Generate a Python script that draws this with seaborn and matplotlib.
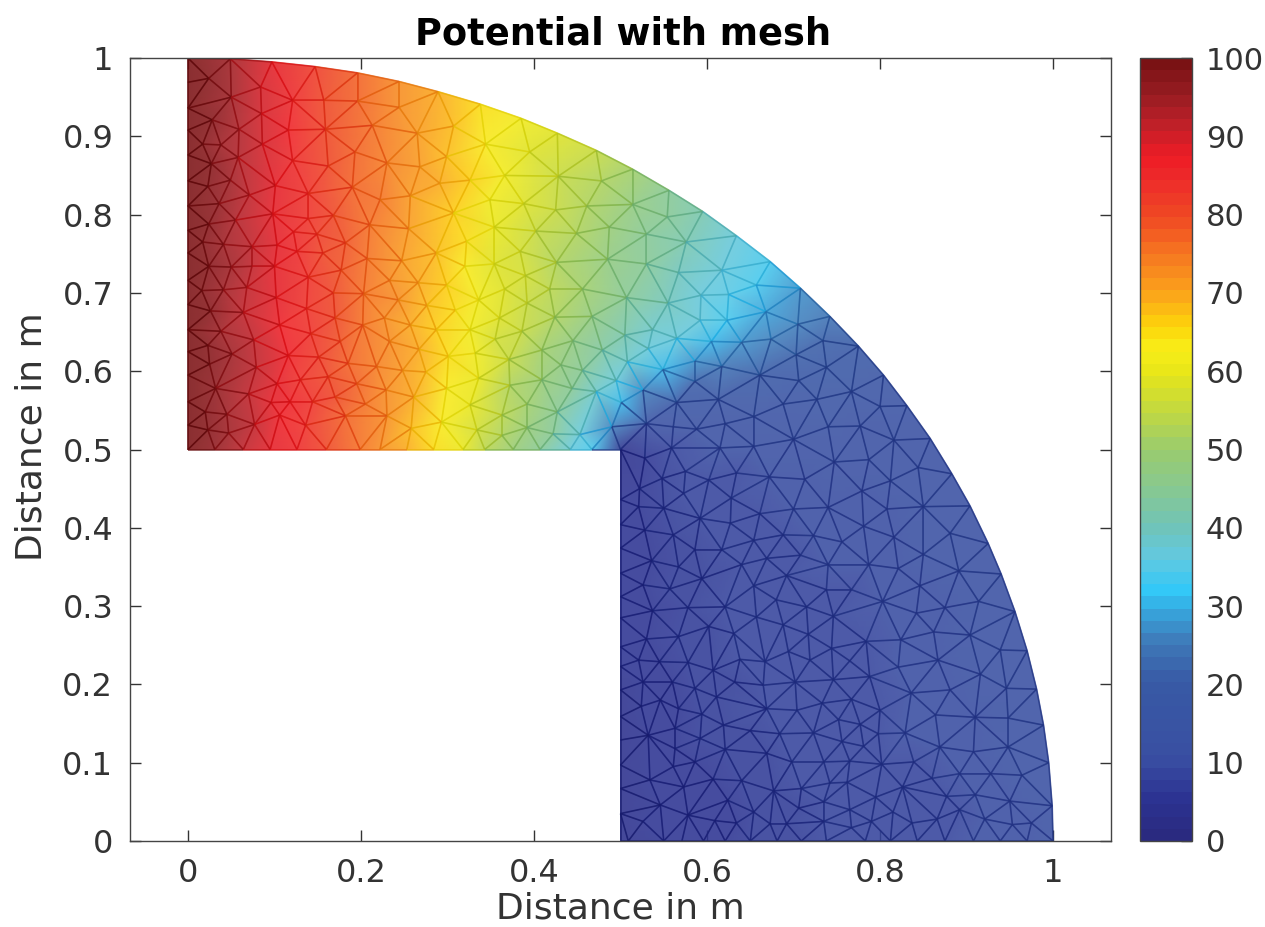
# potential on the mesh, node positions and values
import numpy as np
import matplotlib
matplotlib.use("Agg")
import matplotlib.pyplot as plt
import matplotlib.tri as mtri
import seaborn as sns
from matplotlib.collections import LineCollection
from matplotlib.colors import LinearSegmentedColormap, Normalize
from matplotlib.cm import ScalarMappable

# ---------------------------------------------------------
# 1. NODES: x, y, potential, one group per part of the domain
# ---------------------------------------------------------
left_y = [1.0, .969, .936, .908, .876, .843, .811, .780, .751, .716, .685, .653, .625, .595, .561, .531, .5]
left_x = [0.0] * len(left_y)
left_v = [100.0] * len(left_y)

top_x = [.049, .097, .147, .196, .244, .289, .338, .024, .050, .028, .017, .038, .059, .084, .085, .086,
         .058, .027, .023, .049, .071, .036, .024, .055, .041, .017, .074, .098, .101, .121, .116, .121,
         .157, .159, .162, .139, .139, .122, .149, .168, .190, .193, .213, .196, .244, .265, .230, .257,
         .222, .210, .182, .255, .307, .326, .299, .307, .268, .291, .287, .322, .207, .103]
top_y = [.999, .995, .989, .981, .970, .957, .941, .974, .950, .921, .890, .889, .909, .963, .929, .890,
         .873, .865, .836, .844, .825, .814, .788, .793, .762, .765, .759, .801, .837, .869, .908, .946,
         .946, .909, .862, .827, .795, .778, .775, .799, .835, .880, .914, .945, .937, .904, .866, .824,
         .819, .787, .764, .782, .802, .844, .874, .913, .861, .840, .751, .766, .744, .761]
top_v = [94, 88, 82, 77, 72, 69, 65, 97, 94, 97, 98, 95, 93, 90, 90, 90,
         93, 97, 97, 94, 91, 96, 97, 93, 95, 98, 91, 88, 88, 85, 86, 85,
         81, 81, 81, 83, 83, 85, 82, 80, 78, 78, 76, 77, 72, 71, 74, 71,
         75, 76, 79, 71, 66, 66, 68, 68, 71, 69, 68, 65, 76, 88]

low_x = [.024, .050, .074, .100, .126, .139, .156, .177, .247, .320, .233, .266, .299, .336, .016, .041,
         .068, .026, .064, .102, .137, .168, .203, .243, .276, .309, .038, .076, .106, .142, .170, .202,
         .227, .257, .287, .326, .023, .051, .025, .116, .151, .176, .233, .267, .301, .332, .079, .032,
         .070, .103, .130, .162, .185, .218, .248, .275, .336, .195, .229, .261, .299, .326, .020, .045,
         .096, .118, .144, .170, .205, .230, .293, .334, .023, .047, .077, .106, .136, .182, .258,
         .031, .064, .095, .126, .160, .199, .222, .253, .284, .318]
low_y = [.734, .733, .734, .734, .753, .720, .751, .729, .741, .734, .716, .713, .710, .691, .703, .704,
         .707, .677, .675, .694, .680, .700, .699, .691, .684, .678, .651, .640, .659, .648, .668, .659,
         .668, .659, .653, .653, .633, .622, .609, .620, .618, .638, .638, .628, .619, .623, .605, .578,
         .571, .584, .589, .593, .610, .606, .601, .599, .591, .584, .576, .567, .578, .557, .548, .545,
         .560, .561, .561, .567, .558, .543, .535, .525, .525, .521, .532, .544, .531, .543, .527,
         .5, .5, .5, .5, .5, .5, .5, .5, .5, .5]
low_v = [97, 94, 91, 88, 85, 83, 81, 79, 71, 64, 73, 70, 66, 62, 98, 95,
         92, 97, 92, 88, 83, 80, 76, 72, 68, 65, 95, 91, 87, 83, 80, 76,
         73, 70, 67, 62, 97, 94, 97, 86, 82, 79, 73, 69, 65, 61, 91, 96,
         92, 88, 84, 81, 78, 74, 71, 68, 60, 77, 73, 69, 64, 60, 97, 95,
         89, 86, 83, 80, 75, 72, 64, 57, 97, 94, 91, 87, 84, 78, 68,
         96, 92, 89, 85, 81, 76, 73, 69, 65, 60]

mid_x = [.344, .395, .366, .428, .478, .349, .388, .425, .461, .514, .354, .402, .449, .487, .530, .554,
         .576, .384, .354, .426, .485, .530, .567, .617, .657, .390, .392, .418, .456, .507, .555, .593,
         .625, .668, .366, .424, .467, .386, .505, .537, .565, .592, .623,
         .385, .427, .472, .514, .556, .595, .634, .673]
mid_y = [.890, .880, .850, .849, .843, .819, .814, .806, .811, .813, .784, .779, .776, .784, .775, .797,
         .765, .753, .737, .739, .743, .737, .726, .729, .710, .722, .687, .705, .705, .694, .687, .697,
         .698, .676, .705, .669, .670, .651, .646, .653, .642, .665, .665,
         .923, .904, .882, .858, .831, .804, .773, .740]
mid_v = [63, 59, 61, 56, 52, 61, 58, 55, 52, 48, 60, 56, 52, 49, 45, 44,
         41, 57, 59, 53, 48, 44, 40, 36, 33, 57, 56, 54, 50, 45, 40, 37,
         35, 29, 58, 52, 48, 55, 42, 39, 36, 36, 33,
         61, 58, 55, 50, 45, 41, 37, 33]

corner_x = [.360, .605, .640, .355, .409, .445, .479, .532, .371, .508, .549, .586, .617, .661, .431, .456,
            .495, .526, .409, .372, .444, .472, .501, .565, .613, .654, .586, .392, .427, .363, .392, .422,
            .453, .363, .490, .530, .561, .588, .615, .621, .654,
            .343, .376, .407, .442, .467, .5,
            .528, .559, .548, .575, .602, .634, .672, .522, .573, .628]
corner_y = [.668, .638, .637, .641, .627, .639, .627, .629, .615, .612, .602, .613, .606, .595, .608, .601,
            .588, .576, .589, .582, .578, .574, .560, .560, .564, .542, .587, .558, .548, .544, .528, .520,
            .519, .518, .529, .533, .529, .526, .502, .533, .504,
            .5, .5, .5, .5, .5, .5,
            .489, .502, .463, .472, .461, .470, .465, .450, .444, .438]
corner_v = [58, 31, 27, 57, 51, 47, 43, 37, 55, 38, 30, 27, 24, 20, 47, 44,
            37, 26, 49, 53, 44, 39, 31, 16, 15, 13, 21, 50, 44, 54, 49, 44,
            36, 53, 25, 12, 11, 12, 11, 12, 11,
            54, 49, 45, 37, 33, 4,
            6, 9, 7, 8, 8, 9, 10, 6, 8, 9]

right_x = [.708, .742, .775, .804, .831, .858, .883, .904, .925, .940,
           .705, .734, .674, .703, .738, .706, .767, .727, .688, .800, .740, .777, .700, .816, .844, .747,
           .787, .713, .812, .779, .740, .700, .808, .850, .781, .881, .816, .688, .723, .756, .850, .708,
           .669, .740, .787, .891, .821]
right_y = [.706, .670, .632, .595, .556, .514, .469, .428, .380, .341,
           .660, .639, .641, .621, .605, .588, .574, .564, .558, .555, .529, .530, .513, .512, .477, .484,
           .487, .462, .460, .447, .426, .424, .424, .427, .402, .393, .388, .391, .390, .382, .366, .365,
           .361, .353, .353, .345, .348]
right_v = [28, 24, 19, 15, 13, 12, 11, 11, 11, 11,
           25, 21, 26, 21, 18, 17, 15, 15, 14, 13, 13, 12, 11, 12, 11, 11,
           11, 10, 11, 10, 10, 10, 10, 11, 10, 11, 10, 9, 10, 10, 11, 9,
           9, 10, 10, 11, 10]

foot_x = [.550, .592, .627, .661, .528, .521, .561, .536, .586, .617, .654, .567, .640, .594, .526, .557,
          .654, .692, .738, .621, .578, .537, .680, .715, .657, .602, .631, .688, .717, .746, .567, .530,
          .694, .744, .638, .545, .578, .607, .667, .719, .521, .526, .560, .586, .632, .702, .746, .665,
          .611, .546, .567, .524, .594, .669, .704, .733, .619, .563, .532, .592, .650, .684, .723, .563,
          .621, .586, .669, .698, .735, .561, .534, .607, .573, .640, .677, .709, .742, .546, .624, .578,
          .654, .706, .735, .526, .609, .634, .673, .692, .735]
foot_y = [.425, .412, .406, .418, .397, .427, .391, .358, .372, .372, .384, .350, .353, .335, .327, .322,
          .326, .339, .321, .299, .298, .294, .308, .299, .286, .274, .265, .276, .264, .287, .261, .258,
          .242, .246, .232, .229, .228, .218, .229, .231, .231, .203, .203, .195, .203, .203, .206, .199,
          .184, .180, .169, .172, .162, .169, .167, .176, .148, .144, .135, .131, .141, .137, .138, .118,
          .117, .101, .112, .101, .101, .095, .078, .079, .069, .077, .064, .067, .074, .046, .052, .033,
          .037, .042, .050, .025, .026, .023, .022, .022, .025]
foot_v = [7, 8, 8, 9, 6, 6, 7, 6, 7, 8, 9, 7, 8, 7, 6, 7,
          8, 9, 9, 8, 7, 6, 8, 9, 8, 7, 8, 8, 9, 9, 7, 6,
          8, 9, 8, 6, 7, 7, 8, 9, 6, 6, 6, 7, 7, 8, 9, 8,
          7, 6, 6, 5, 7, 8, 8, 9, 7, 6, 5, 7, 7, 8, 8, 6,
          7, 6, 7, 8, 8, 6, 5, 6, 6, 7, 7, 8, 8, 5, 6, 5,
          7, 7, 8, 5, 6, 6, 7, 7, 8]

hole_y = [.436, .404, .374, .342, .312, .285, .248, .223, .193, .159, .129, .097, .067, .035, 0.0]
hole_x = [.5] * len(hole_y)
hole_v = [5, 5, 5, 5, 5, 5, 5, 5, 4, 4, 4, 4, 4, 4, 4]

bottom_x = [.509, .550, .571, .596, .621, .650, .681, .709, .738, .783, .812, .843, .875, .908, .939, .970, 1.0]
bottom_y = [0.0] * len(bottom_x)
bottom_v = [4, 5, 5, 6, 6, 7, 7, 7, 8, 8, 8, 9, 9, 10, 10, 10, 11]

tail_x = [.846, .767, .803, .914, .875, .956, .842, .862, .904, .824, .784, .939, .970, .867, .765, .821,
          .916, .788, .946, .981, .881, .836, .767, .800, .864, .910, .948, .752, .777, .989, .829, .798,
          .756, .781, .869, .908, .948, .765, .802, .839, .995, .892, .928, .964, .860, .762, .826, .795,
          .910, .877, .950, .999, .765, .815, .892, .866, .921, .837, .975, .953, .790, .767]
tail_y = [.326, .321, .306, .306, .298, .293, .291, .267, .263, .257, .255, .244, .243, .231, .230, .222,
          .213, .210, .195, .194, .193, .189, .181, .167, .161, .158, .157, .155, .149, .148, .138, .137,
          .127, .121, .120, .114, .120, .102, .098, .101, .100, .086, .086, .084, .080, .075, .069, .056,
          .059, .057, .051, .045, .040, .037, .040, .028, .028, .023, .023, .021, .025, .017]
tail_v = [10, 9, 10, 11, 10, 11, 10, 10, 11, 10, 9, 11, 11, 10, 9, 10,
          11, 9, 11, 11, 10, 10, 9, 9, 10, 10, 11, 9, 9, 11, 10, 9,
          8, 9, 10, 10, 11, 8, 9, 9, 11, 10, 10, 11, 9, 8, 9, 9,
          10, 9, 10, 11, 8, 8, 9, 9, 10, 9, 10, 10, 8, 8]

tick_x = [0, 0.2, 0.4, 0.6, 0.8, 1]
tick_y = [0, 0.1, 0.2, 0.3, 0.4, 0.5, 0.6, 0.7, 0.8, 0.9, 1]
tick_bar = [0, 10, 20, 30, 40, 50, 60, 70, 80, 90, 100]

# colour bar stops as (potential, colour)
bar_pos = [0, 5, 10, 20, 25, 29, 31.5, 36, 40, 45, 50, 55, 60, 63, 66, 70, 75, 80, 85, 88, 92, 96, 100]
bar_col = ["#2a2a80", "#2c3393", "#394fa2", "#385aa5", "#3f7ab9", "#37a5dc", "#30c8f8", "#62c9e0",
           "#70c4b8", "#88c890", "#9acc6e", "#c2d840", "#e8e618", "#f8ee18", "#fdd40a", "#fba61a",
           "#f67a20", "#f04a23", "#ed2a2a", "#ee1c25", "#c02028", "#971c22", "#7a1214"]

# ---------------------------------------------------------
# 2. MESH
# ---------------------------------------------------------
sns.set_theme(style="ticks")
plt.rcParams["font.family"] = ["DejaVu Sans"]

x = np.concatenate([left_x, top_x, low_x, mid_x, corner_x, right_x, foot_x, hole_x, bottom_x, tail_x])
y = np.concatenate([left_y, top_y, low_y, mid_y, corner_y, right_y, foot_y, hole_y, bottom_y, tail_y])
v = np.concatenate([left_v, top_v, low_v, mid_v, corner_v, right_v, foot_v, hole_v, bottom_v, tail_v]).astype(float)

tri = mtri.Triangulation(x, y)
cx = x[tri.triangles].mean(axis=1)
cy = y[tri.triangles].mean(axis=1)
tri.set_mask((cx < 0.5) & (cy < 0.5))

cmap = LinearSegmentedColormap.from_list("bar", [(p / 100, c) for p, c in zip(bar_pos, bar_col)], N=64)
norm = Normalize(0, 100)

# ---------------------------------------------------------
# 3. PLOT
# ---------------------------------------------------------
fig = plt.figure(figsize=(12.65, 9.27), dpi=100)
ax = fig.add_axes([130 / 1265, 1 - 841 / 927, 981 / 1265, 783 / 927])
cax = fig.add_axes([1140 / 1265, 1 - 841 / 927, 52 / 1265, 783 / 927])

ax.tripcolor(tri, v, shading="gouraud", cmap=cmap, norm=norm, alpha=0.88)

# mesh lines take the colour of the potential, deeper than the faces
edges = tri.edges
seg = np.stack([np.column_stack([x[edges[:, 0]], y[edges[:, 0]]]),
                np.column_stack([x[edges[:, 1]], y[edges[:, 1]]])], axis=1)
edge_col = cmap(norm(v[edges].mean(axis=1)))
edge_col[:, :3] = 0.92 * edge_col[:, :3] ** 1.3
ax.add_collection(LineCollection(seg, colors=edge_col, linewidths=1.2, alpha=0.75))

ax.set_xlim(-0.067, 1.067)
ax.set_ylim(0, 1)
ax.set_xticks(tick_x)
ax.set_xticklabels([f"{t:g}" for t in tick_x])
ax.set_yticks(tick_y)
ax.set_yticklabels([f"{t:g}" for t in tick_y])
ax.tick_params(direction="in", length=8, width=1, top=True, right=True, labelsize=23,
               colors="#333333", pad=12)
for s in ax.spines.values():
    s.set_linewidth(1)
    s.set_color("#444444")
ax.set_xlabel("Distance in m", fontsize=26, color="#333333", labelpad=2)
ax.set_ylabel("Distance in m", fontsize=26, color="#333333", labelpad=10, y=0.516)
ax.set_title("Potential with mesh", fontsize=26.5, fontweight="bold", color="black", pad=10, x=0.503)

cb = fig.colorbar(ScalarMappable(norm=norm, cmap=cmap), cax=cax)
cb.set_ticks(tick_bar)
cb.ax.tick_params(direction="in", length=8, width=1, labelsize=22, colors="#333333", pad=10)
cb.outline.set_linewidth(1)
cb.outline.set_edgecolor("#444444")

fig.savefig("out.png", dpi=100)
